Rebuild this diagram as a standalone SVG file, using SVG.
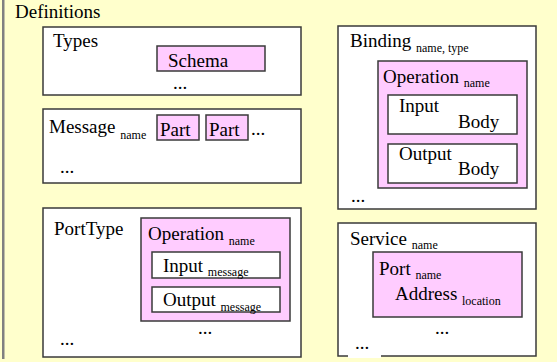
<svg xmlns="http://www.w3.org/2000/svg" width="557" height="362" viewBox="0 0 557 362">
<style>
text{font-family:"Liberation Serif","Times New Roman",serif;fill:#000}
.t{font-size:19px}
.s{font-size:12px}
.box{fill:#fff;stroke:#3a3a3a;stroke-width:1.5}
.pink{fill:#ffccff;stroke:#3a3a3a;stroke-width:1.5}
</style>
<rect x="0" y="0" width="557" height="362" fill="#ffffcc"/>
<rect x="2" y="0" width="2.5" height="359" fill="#808080"/>
<g id="definitions"><text class="t" x="15" y="18">Definitions</text></g>
<g id="types">
<rect class="box" x="43" y="27" width="258" height="68"/>
<text class="t" x="53" y="47">Types</text>
<rect class="pink" x="157" y="46" width="108" height="25"/>
<text class="t" x="168" y="67">Schema</text>
<text class="t" x="173" y="89">...</text>
</g>
<g id="message">
<rect class="box" x="43" y="109" width="258" height="74"/>
<text class="t" x="49" y="133">Message <tspan class="s" dy="6">name</tspan></text>
<rect class="pink" x="157" y="115" width="42" height="25"/>
<text class="t" x="160" y="136">Part</text>
<rect class="pink" x="206" y="115" width="42" height="25"/>
<text class="t" x="209" y="136">Part</text>
<text class="t" x="251" y="135">...</text>
<text class="t" x="60" y="173">...</text>
</g>
<g id="porttype">
<rect class="box" x="43" y="208" width="258" height="149"/>
<text class="t" x="54" y="235">PortType</text>
<rect class="pink" x="141" y="218" width="149" height="103"/>
<text class="t" x="148" y="240">Operation <tspan class="s" dy="5">name</tspan></text>
<rect class="box" x="152" y="252" width="128" height="26"/>
<text class="t" x="163" y="272">Input <tspan class="s" dy="4">message</tspan></text>
<rect class="box" x="152" y="287" width="128" height="25"/>
<text class="t" x="163" y="306">Output <tspan class="s" dy="5">message</tspan></text>
<text class="t" x="198" y="334">...</text>
<text class="t" x="60" y="345">...</text>
</g>
<g id="binding">
<rect class="box" x="338" y="26" width="198" height="183"/>
<text class="t" x="350" y="47">Binding <tspan class="s" dy="5">name, type</tspan></text>
<rect class="pink" x="378" y="61" width="149" height="127"/>
<text class="t" x="383" y="83">Operation <tspan class="s" dy="4">name</tspan></text>
<rect class="box" x="388" y="95" width="129" height="39"/>
<text class="t" x="399" y="112">Input</text>
<text class="t" x="458" y="128">Body</text>
<rect class="box" x="388" y="144" width="129" height="39"/>
<text class="t" x="399" y="160">Output</text>
<text class="t" x="458" y="175">Body</text>
<text class="t" x="351" y="202">...</text>
</g>
<g id="service">
<rect class="box" x="338" y="223" width="198" height="133"/>
<text class="t" x="350" y="245">Service <tspan class="s" dy="4">name</tspan></text>
<rect class="pink" x="373" y="252" width="149" height="65"/>
<text class="t" x="379" y="275">Port <tspan class="s" dy="4">name</tspan></text>
<text class="t" x="395" y="300">Address <tspan class="s" dy="5">location</tspan></text>
<text class="t" x="435" y="334">...</text>
<rect x="348" y="340" width="33" height="18" fill="#fff"/>
<text class="t" x="355" y="349">...</text>
</g>
<g id="connectors"></g>
</svg>
